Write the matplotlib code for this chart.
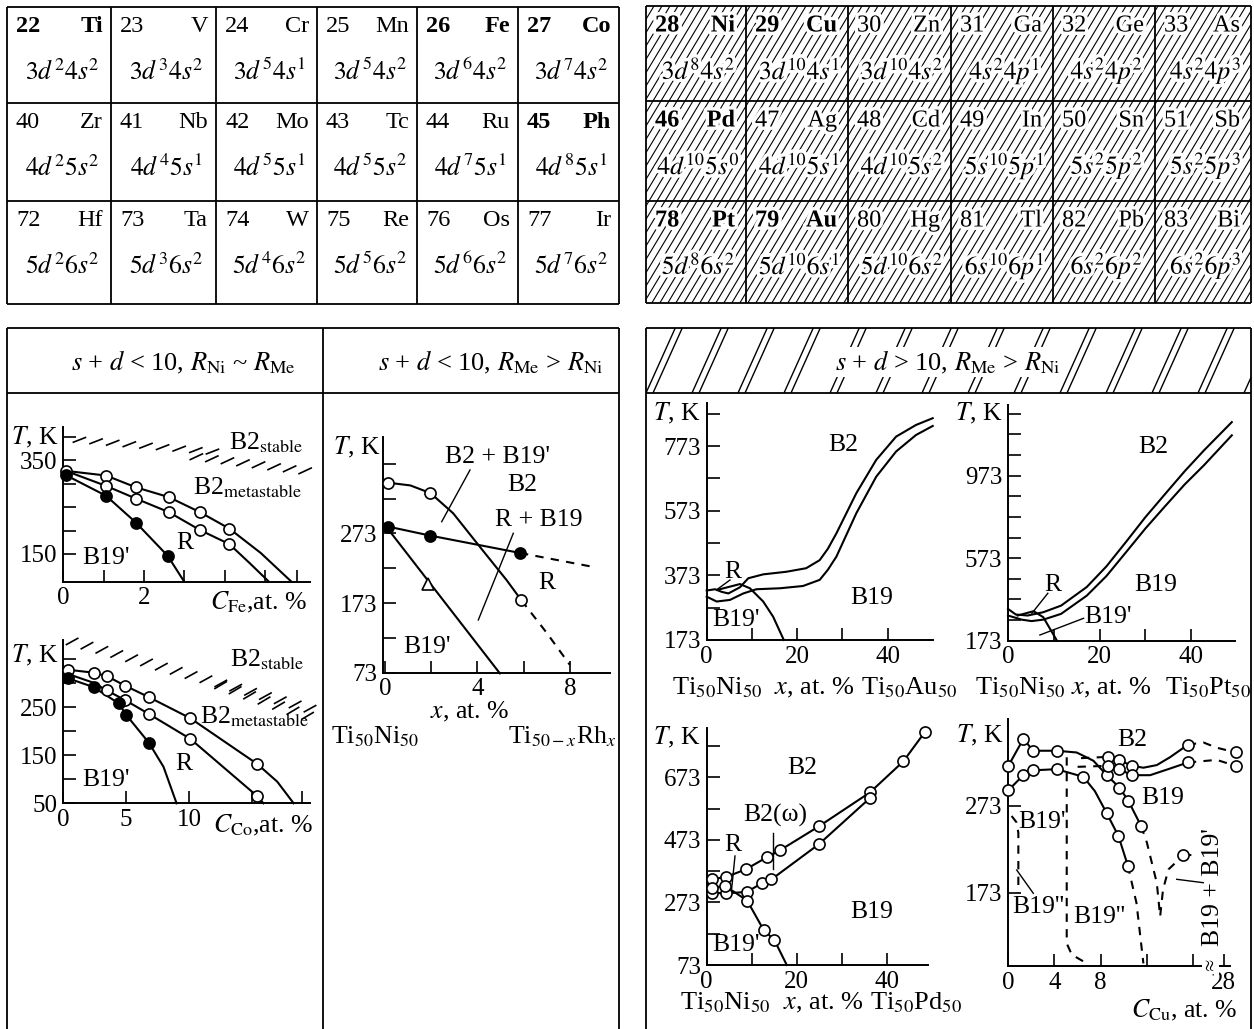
import numpy as np
import matplotlib
matplotlib.use("Agg")
import matplotlib.pyplot as plt
import matplotlib.patheffects as pe
from matplotlib.patches import Rectangle
from matplotlib.collections import LineCollection

plt.rcParams["font.family"] = ["Liberation Serif", "DejaVu Serif"]
plt.rcParams["mathtext.fontset"] = "stix"
plt.rcParams["font.size"] = 17

W, H = 1254, 1029
LABEL_SIZE = 18.5

# ---------------- periodic table blocks ----------------
left_numbers = [[22, 23, 24, 25, 26, 27], [40, 41, 42, 43, 44, 45], [72, 73, 74, 75, 76, 77]]
left_symbols = [["Ti", "V", "Cr", "Mn", "Fe", "Co"],
                ["Zr", "Nb", "Mo", "Tc", "Ru", "Ph"],
                ["Hf", "Ta", "W", "Re", "Os", "Ir"]]
left_configs = [["3d^{2}4s^{2}", "3d^{3}4s^{2}", "3d^{5}4s^{1}", "3d^{5}4s^{2}", "3d^{6}4s^{2}", "3d^{7}4s^{2}"],
                ["4d^{2}5s^{2}", "4d^{4}5s^{1}", "4d^{5}5s^{1}", "4d^{5}5s^{2}", "4d^{7}5s^{1}", "4d^{8}5s^{1}"],
                ["5d^{2}6s^{2}", "5d^{3}6s^{2}", "5d^{4}6s^{2}", "5d^{5}6s^{2}", "5d^{6}6s^{2}", "5d^{7}6s^{2}"]]
left_bold = {"Ti", "Fe", "Co", "Ph"}

right_numbers = [[28, 29, 30, 31, 32, 33], [46, 47, 48, 49, 50, 51], [78, 79, 80, 81, 82, 83]]
right_symbols = [["Ni", "Cu", "Zn", "Ga", "Ge", "As"],
                 ["Pd", "Ag", "Cd", "In", "Sn", "Sb"],
                 ["Pt", "Au", "Hg", "Tl", "Pb", "Bi"]]
right_configs = [["3d^{8}4s^{2}", "3d^{10}4s^{1}", "3d^{10}4s^{2}", "4s^{2}4p^{1}", "4s^{2}4p^{2}", "4s^{2}4p^{3}"],
                 ["4d^{10}5s^{0}", "4d^{10}5s^{1}", "4d^{10}5s^{2}", "5s^{10}5p^{1}", "5s^{2}5p^{2}", "5s^{2}5p^{3}"],
                 ["5d^{8}6s^{2}", "5d^{10}6s^{1}", "5d^{10}6s^{2}", "6s^{10}6p^{1}", "6s^{2}6p^{2}", "6s^{2}6p^{3}"]]
right_bold = {"Ni", "Cu", "Pd", "Pt", "Au"}

# ---------------- TiNi-Fe ----------------
fe_x = [0.06, 1.06, 1.8, 2.62, 3.39, 4.12]
fe_b2 = [327, 317, 292, 271, 239, 204]
fe_b2_tail = ([4.9, 5.66], [152, 91])
fe_r = [327, 295, 268, 239, 201, 171]
fe_r_tail = ([4.63, 5.1], [130, 91])
fe_m_x = [0.06, 1.06, 1.8, 2.59]
fe_m = [318, 274, 217, 146]
fe_m_tail = ([3.0], [91])
fe_stable = ([0.4, 3.7], [393, 368])
fe_stable2 = ([3.3, 6.0], [357, 327])

# ---------------- TiNi-Co ----------------
co_b2_x = [0.4, 2.4, 3.45, 4.9, 6.8, 10.1, 15.4]
co_b2 = [328, 322, 315, 295, 271, 227, 132]
co_b2_tail = ([17.0, 18.3], [95, 50])
co_r_x = [3.45, 4.9, 6.8, 10.1, 15.4]
co_r = [285, 265, 236, 184, 65]
co_r_head = ([0.4, 2.4], [319, 301])
co_r_tail = ([15.9], [50])
co_m_x = [0.4, 2.4, 4.4, 5.0, 6.8]
co_m = [310, 292, 258, 234, 176]
co_m_tail = ([7.96, 9.0], [126, 50])
co_stable = ([0.7, 19.6], [387, 247])
co_stable2 = ([12.5, 19.4], [296, 232])

# ---------------- TiNi-Rh ----------------
rh_open_x = [0.12, 1.97, 5.9]
rh_open = [346, 331, 177]
rh_open_line = ([0.12, 1.1, 1.97, 2.95, 4.1, 5.26, 5.9], [346, 342, 331, 302, 254, 206, 177])
rh_open_dash = ([5.9, 7.0, 8.0], [177, 130, 84])
rh_fill_x = [0.12, 1.95, 5.84]
rh_fill = [283, 270, 245]
rh_fill_dash = ([5.84, 9.0], [245, 225])
rh_b19 = ([0.12, 4.97], [280, 72])
rh_tri = ([1.87], [200])

# ---------------- TiNi-Au ----------------
au_hi_x = [0, 1.84, 3.3, 4.8, 7.35, 9.2, 12.5, 17.6, 22, 25, 26.8, 28.7, 33.1, 37.5, 41.9, 46.3, 50]
au_hi = [326, 330, 322, 317, 336, 364, 376, 384, 395, 420, 455, 503, 627, 730, 802, 838, 859]
au_lo_x = [0, 2.2, 5.15, 8.1, 11, 16.2, 21.3, 25, 26.8, 28.7, 33.1, 37.5, 41.9, 46.3, 50]
au_lo = [307, 292, 297, 317, 330, 333, 340, 359, 390, 431, 565, 678, 756, 807, 835]
au_r_x = [2.35, 7.35, 9.56, 12.5, 14.7, 17.06]
au_r = [328, 346, 333, 292, 245, 173]

# ---------------- TiNi-Pt ----------------
pt_hi_x = [0, 1.7, 4.3, 7.7, 11.6, 17.2, 21.5, 25.8, 30, 34.3, 38.6, 42.9, 48.9]
pt_hi = [327, 300, 295, 311, 343, 433, 533, 652, 771, 883, 994, 1097, 1232]
pt_lo_x = [0, 3, 5.15, 7.7, 11.6, 17.2, 21.5, 25.8, 30, 34.3, 38.6, 42.9, 48.9]
pt_lo = [295, 275, 268, 275, 303, 391, 486, 602, 716, 824, 930, 1025, 1168]
pt_r_x = [2.1, 5.6, 7.7, 10.7]
pt_r = [295, 316, 287, 173]

# ---------------- TiNi-Pd ----------------
pd_hi_x = [1.1, 4.4, 8.7, 13.3, 16.3, 25, 36.3, 43.7, 48.5]
pd_hi = [347, 355, 379, 417, 440, 517, 625, 724, 818]
pd_lo_x = [1.1, 4.4, 9.0, 12.4, 14.4, 25, 36.3]
pd_lo = [304, 302, 307, 336, 347, 460, 607]
pd_r_x = [1.1, 4.1, 9.0, 12.7, 15.0]
pd_r = [320, 326, 279, 184, 154]
pd_r_tail = ([17.8], [73])

# ---------------- TiNi-Cu ----------------
cu_a_x = [0, 1.3, 2.17, 4.19, 8.53, 9.62, 10.4, 11.5]
cu_a = [319, 350, 336.5, 336.5, 308.4, 294.2, 278.8, 250]
cu_a_line = ([0, 1.3, 2.17, 4.19, 5.92, 7.37, 8.53, 9.62, 10.4, 11.5],
             [319, 350, 336.5, 336.5, 334.5, 325, 308.4, 294.2, 278.8, 250])
cu_a_dash = ([11.5, 12.0, 12.86, 13.15, 13.4, 13.87, 15.17], [250, 231, 184.5, 146, 177, 200, 216.5])
cu_mix = ([15.17], [216.5])
cu_mix_dash = ([15.17, 16.3], [216.5, 216.5])
cu_b_x = [0, 1.3, 2.17, 4.19, 6.5, 8.53, 9.54, 10.35]
cu_b = [291, 308.4, 314, 315.3, 306.5, 264.5, 238.4, 204.5]
cu_b_line = ([0, 1.3, 2.17, 4.19, 6.5, 7.5, 8.53, 9.54, 10.35],
             [291, 308.4, 314, 315.3, 306.5, 290, 264.5, 238.4, 204.5])
cu_b_dash = ([10.35, 11.1, 11.7], [204.5, 161.5, 92])
cu_c_x = [8.67, 9.62, 10.7, 15.55, 30]
cu_c = [329.5, 325.7, 319.2, 343.4, 334.5]
cu_c_line = ([8.67, 9.62, 10.7, 11.7, 12.86, 14.0, 15.55], [329.5, 325.7, 319.2, 317, 320, 329, 343.4])
cu_c_dash_l = ([6.3, 8.67], [328, 329.5])
cu_c_dash_r = ([15.55, 16.9, 26.9, 30], [343.4, 346, 340, 334.5])
cu_d_x = [8.67, 9.62, 10.7, 15.55, 30]
cu_d = [319.2, 315.3, 308.4, 323, 319]
cu_d_line = ([8.67, 9.62, 10.7, 12.28, 14.0, 15.55], [319.2, 315.3, 308.4, 308.4, 316, 323])
cu_d_dash_l = ([6.0, 8.67], [318, 319.2])
cu_d_dash_r = ([15.55, 26.9, 30], [323, 326, 319])
cu_v_dash = ([5.06, 5.06, 5.5, 6.8], [329, 115, 102, 92])
cu_left_dash = ([0.29, 0.72, 0.87, 0.87], [261.5, 254, 242, 173])


def cu_pos(x):
    # broken composition axis: everything past the break is squeezed next to 28 at.%
    x = np.asarray(x, dtype=float)
    return np.where(x <= 17, x, 18.64 + (x - 28) * 0.54)


fig = plt.figure(figsize=(W / 100, H / 100), dpi=100)
bg = fig.add_axes([0, 0, 1, 1])
bg.set_xlim(0, W)
bg.set_ylim(H, 0)
bg.axis("off")

white_edge = [pe.withStroke(linewidth=5, foreground="white")]


def hatch(x0, y0, x1, y1, starts, lean, lw=0.8):
    h = y1 - y0
    segs = [[(s, y1), (s + lean * h, y0)] for s in starts]
    lc = LineCollection(segs, colors="k", linewidths=lw)
    bg.add_collection(lc)
    lc.set_clip_path(Rectangle((x0, y0), x1 - x0, y1 - y0, transform=bg.transData))


def line(x, y, lw=1.3):
    bg.plot(x, y, color="k", lw=lw, solid_capstyle="butt")


def draw_table(xe, ye, numbers, symbols, configs, bold, hatched):
    if hatched:
        lean = 0.6
        hatch(xe[0], ye[0], xe[-1], ye[-1],
              np.arange(xe[0] - lean * (ye[-1] - ye[0]), xe[-1] + 8, 8), lean)
    for x in xe:
        line([x, x], [ye[0], ye[-1]])
    for y in ye:
        line([xe[0], xe[-1]], [y, y])
    fx = white_edge if hatched else None
    for i in range(3):
        for j in range(6):
            left, right, top = xe[j], xe[j + 1], ye[i]
            weight = "bold" if symbols[i][j] in bold else "normal"
            bg.text(left + 9, top + 20, str(numbers[i][j]), ha="left", va="center",
                    fontsize=17.5, weight=weight, path_effects=fx)
            bg.text(right - (11 if hatched else 8), top + 20, symbols[i][j], ha="right",
                    va="center", fontsize=17.5, weight=weight, path_effects=fx)
            bg.text((left + right) / 2 + 3, top + 65, "$" + configs[i][j] + "$",
                    ha="center", va="center", fontsize=18.5, path_effects=fx)


draw_table([7, 111, 216, 317, 417, 518, 619], [7, 103, 201, 304],
           left_numbers, left_symbols, left_configs, left_bold, False)
draw_table([646, 746, 848, 951, 1053, 1155, 1251], [6, 101, 201, 303],
           right_numbers, right_symbols, right_configs, right_bold, True)

# lower frames
line([7, 619], [328, 328])
line([7, 7], [328, H])
line([619, 619], [328, H])
line([323, 323], [328, H])
line([7, 619], [393, 393])

pair_starts = np.sort(np.concatenate([np.arange(600, 1260, 46), np.arange(607, 1260, 46)]))
hatch(646, 328, 1251, 393, pair_starts, 0.45, lw=1.0)
line([646, 1251], [328, 328])
line([646, 646], [328, H])
line([1251, 1251], [328, H])
line([646, 1251], [393, 393])

bg.text(183, 362, r"$s$ + $d$ < 10, $R_{\rm Ni}$ ~ $R_{\rm Me}$", ha="center", va="center", fontsize=19)
bg.text(491, 362, r"$s$ + $d$ < 10, $R_{\rm Me}$ > $R_{\rm Ni}$", ha="center", va="center", fontsize=19)
bg.text(948, 362, r"$s$ + $d$ > 10, $R_{\rm Me}$ > $R_{\rm Ni}$", ha="center", va="center", fontsize=19,
        bbox=dict(fc="white", ec="none", pad=1))


def panel(x0, x1, y_top, y_bot, xlim, ylim):
    ax = fig.add_axes([x0 / W, 1 - y_bot / H, (x1 - x0) / W, (y_bot - y_top) / H])
    ax.set_xlim(*xlim)
    ax.set_ylim(*ylim)
    ax.patch.set_alpha(0)
    for s in ("top", "right"):
        ax.spines[s].set_visible(False)
    for s in ("left", "bottom"):
        ax.spines[s].set_linewidth(1.4)
    ax.tick_params(direction="in", length=9, width=1.2, labelsize=18, pad=4)
    return ax


def ticks(ax, xt, xl, yt, yl, xpos=None):
    ax.set_xticks(xt if xpos is None else xpos)
    ax.set_xticklabels([str(v) if v in xl else "" for v in xt])
    ax.set_yticks(yt)
    ax.set_yticklabels([str(v) if v in yl else "" for v in yt])


def curve(ax, x, y, dashed=False):
    ax.plot(x, y, color="k", lw=1.5, ls=(0, (4, 3.5)) if dashed else "-", clip_on=False)


def dots(ax, x, y, filled=False, marker="o"):
    ax.plot(x, y, ls="none", marker=marker, ms=8, mfc="k" if filled else "white",
            mec="k", mew=1.2, zorder=3, clip_on=False)


def stable_edge(ax, ends, n, dx, dy):
    xs = np.linspace(ends[0][0], ends[0][1], n)
    ys = np.linspace(ends[1][0], ends[1][1], n)
    for x, y in zip(xs, ys):
        ax.plot([x - dx / 2, x + dx / 2], [y - dy / 2, y + dy / 2], color="k", lw=1.2, clip_on=False)


def labels(items, size=LABEL_SIZE):
    for txt, x, y, ha, *rest in items:
        bg.text(x, y, txt, ha=ha, va="center", fontsize=size, rotation=rest[0] if rest else 0)


def leaders(segs):
    for (xa, ya), (xb, yb) in segs:
        bg.plot([xa, xb], [ya, yb], color="k", lw=1.0)


# Fe
ax = panel(63.3, 310, 426.7, 581.7, (0, 6.12), (91, 421))
ticks(ax, [0, 1, 2, 3, 4, 5, 5.8], [0, 2], [150, 200, 250, 300, 350, 400], [150, 350])
curve(ax, fe_x + fe_b2_tail[0], fe_b2 + fe_b2_tail[1])
curve(ax, fe_x + fe_r_tail[0], fe_r + fe_r_tail[1])
curve(ax, fe_m_x + fe_m_tail[0], fe_m + fe_m_tail[1])
dots(ax, fe_x, fe_b2)
dots(ax, fe_x[1:], fe_r[1:])
dots(ax, fe_m_x, fe_m, filled=True)
stable_edge(ax, fe_stable, 9, 0.3, 10)
stable_edge(ax, fe_stable2, 8, 0.3, 12)
labels([("$T$, K", 58, 437, "right"), (r"B2$_{\rm stable}$", 229, 443, "left"),
        (r"B2$_{\rm metastable}$", 193, 488, "left"), ("R", 185, 543, "center"),
        ("B19'", 82, 558, "left"), (r"$C_{\rm Fe}$,at. %", 210, 602, "left")])

# Co
ax = panel(63.3, 310, 640, 803.3, (0, 19.6), (50, 390))
ticks(ax, [0, 5, 10, 15, 19], [0, 5, 10], [50, 100, 150, 200, 250, 300, 350], [50, 150, 250])
curve(ax, co_b2_x + co_b2_tail[0], co_b2 + co_b2_tail[1])
curve(ax, co_r_head[0] + co_r_x + co_r_tail[0], co_r_head[1] + co_r + co_r_tail[1])
curve(ax, co_m_x + co_m_tail[0], co_m + co_m_tail[1])
dots(ax, co_b2_x, co_b2)
dots(ax, co_r_x, co_r)
dots(ax, co_m_x, co_m, filled=True)
stable_edge(ax, co_stable, 17, 0.9, 13)
stable_edge(ax, co_stable2, 7, 0.9, 14)
labels([("$T$, K", 58, 655, "right"), (r"B2$_{\rm stable}$", 230, 660, "left"),
        (r"B2$_{\rm metastable}$", 200, 717, "left"), ("R", 184, 764, "center"),
        ("B19'", 82, 780, "left"), (r"$C_{\rm Co}$,at. %", 213, 825, "left")])

# Rh
ax = panel(383.3, 610, 436.7, 672.7, (-0.07, 9.73), (73, 412))
ticks(ax, [0, 2, 4, 6, 8], [0, 4, 8], [73, 123, 173, 223, 273, 323, 373], [73, 173, 273])
curve(ax, *rh_open_line)
curve(ax, *rh_open_dash, dashed=True)
curve(ax, rh_fill_x, rh_fill)
curve(ax, *rh_fill_dash, dashed=True)
curve(ax, *rh_b19)
dots(ax, rh_open_x, rh_open)
dots(ax, rh_fill_x, rh_fill, filled=True)
dots(ax, *rh_tri, marker="^")
labels([("$T$, K", 380, 447, "right"), ("B2 + B19'", 445, 457, "left"), ("B2", 507, 485, "left"),
        ("R + B19", 495, 520, "left"), ("R", 547, 583, "center"), ("B19'", 403, 647, "left"),
        ("$x$, at. %", 470, 712, "center"), (r"Ti$_{50}$Ni$_{50}$", 331, 737, "left"),
        (r"Ti$_{50-x}$Rh$_{x}$", 617, 737, "right")])
leaders([((470, 470), (441.7, 521.7)), ((513.3, 533.3), (478.3, 620))])

# Au
ax = panel(706.7, 932.7, 403, 640, (0, 50), (173, 906))
ticks(ax, [0, 10, 20, 30, 40], [0, 20, 40], list(range(173, 900, 100)), [173, 373, 573, 773])
curve(ax, au_hi_x, au_hi)
curve(ax, au_lo_x, au_lo)
curve(ax, au_r_x, au_r)
labels([("$T$, K", 700, 413, "right"), ("B2", 843, 445, "center"), ("R", 733, 572, "center"),
        ("B19", 872, 598, "center"), ("B19'", 712, 620, "left")])
labels([(r"Ti$_{50}$Ni$_{50}$", 672, 688, "left"), ("$x$, at. %", 855, 688, "right"),
        (r"Ti$_{50}$Au$_{50}$", 861, 688, "left")], size=19)
leaders([((730, 580), (717.3, 589.3))])

# Pt
ax = panel(1008, 1235, 405, 640.7, (0, 49.6), (173, 1315))
ticks(ax, [0, 10, 20, 30, 40], [0, 20, 40], list(range(173, 1300, 100)), [173, 573, 973])
curve(ax, pt_hi_x, pt_hi)
curve(ax, pt_lo_x, pt_lo)
curve(ax, pt_r_x, pt_r)
labels([("$T$, K", 1002, 413, "right"), ("B2", 1153, 447, "center"), ("R", 1053, 585, "center"),
        ("B19", 1156, 585, "center"), ("B19'", 1084, 617, "left")])
labels([(r"Ti$_{50}$Ni$_{50}$", 975, 688, "left"), ("$x$, at. %", 1071, 688, "left"),
        (r"Ti$_{50}$Pt$_{50}$", 1251, 688, "right")], size=19)
leaders([((1047.8, 593.3), (1031.9, 613.3)), ((1083.6, 618.3), (1039.9, 635))])

# Pd
ax = panel(706.7, 928, 728, 965, (0, 49.2), (73, 831))
ticks(ax, [0, 10, 20, 30, 40], [0, 20, 40], list(range(73, 800, 100)), [73, 273, 473, 673])
curve(ax, pd_hi_x, pd_hi)
curve(ax, pd_lo_x, pd_lo)
curve(ax, pd_r_x + pd_r_tail[0], pd_r + pd_r_tail[1])
dots(ax, pd_hi_x, pd_hi)
dots(ax, pd_lo_x, pd_lo)
dots(ax, pd_r_x, pd_r)
labels([("$T$, K", 700, 737, "right"), ("B2", 802, 768, "center"), ("B2(ω)", 743, 815, "left"),
        ("R", 733, 845, "center"), ("B19", 872, 912, "center"), ("B19'", 712, 945, "left")])
labels([(r"Ti$_{50}$Ni$_{50}$", 680, 1003, "left"), ("$x$, at. %", 864, 1003, "right"),
        (r"Ti$_{50}$Pd$_{50}$", 870, 1003, "left")], size=19)
leaders([((772.7, 833.3), (772.7, 869.3)), ((735, 856), (731.7, 888.3))])

# Cu
ax = panel(1008.3, 1230, 719, 966, (0, 19.2), (89, 373))
cu_xt = [0, 4, 8, 12, 16, 28]
ticks(ax, cu_xt, [0, 4, 8, 28], [173, 273], [173, 273], xpos=cu_pos(cu_xt))
curve(ax, cu_pos(cu_a_line[0]), cu_a_line[1])
curve(ax, cu_pos(cu_a_dash[0]), cu_a_dash[1], dashed=True)
curve(ax, cu_pos(cu_mix_dash[0]), cu_mix_dash[1], dashed=True)
curve(ax, cu_pos(cu_b_line[0]), cu_b_line[1])
curve(ax, cu_pos(cu_b_dash[0]), cu_b_dash[1], dashed=True)
curve(ax, cu_pos(cu_c_line[0]), cu_c_line[1])
curve(ax, cu_pos(cu_c_dash_l[0]), cu_c_dash_l[1], dashed=True)
curve(ax, cu_pos(cu_c_dash_r[0]), cu_c_dash_r[1], dashed=True)
curve(ax, cu_pos(cu_d_line[0]), cu_d_line[1])
curve(ax, cu_pos(cu_d_dash_l[0]), cu_d_dash_l[1], dashed=True)
curve(ax, cu_pos(cu_d_dash_r[0]), cu_d_dash_r[1], dashed=True)
curve(ax, cu_pos(cu_v_dash[0]), cu_v_dash[1], dashed=True)
curve(ax, cu_pos(cu_left_dash[0]), cu_left_dash[1], dashed=True)
dots(ax, cu_pos(cu_a_x), cu_a)
dots(ax, cu_pos(cu_b_x), cu_b)
dots(ax, cu_pos(cu_c_x), cu_c)
dots(ax, cu_pos(cu_d_x), cu_d)
dots(ax, cu_pos(cu_mix[0]), cu_mix[1])
ax.text(17.5, 89, r"$\approx$", rotation=90, ha="center", va="center", fontsize=13,
        bbox=dict(fc="white", ec="none", pad=0), clip_on=False)
labels([("$T$, K", 1003, 735, "right"), ("B2", 1132, 740, "center"), ("B19", 1163, 798, "center"),
        ("B19'", 1018, 822, "left"), ("B19''", 1012, 907, "left"), ("B19''", 1073, 917, "left"),
        ("B19 + B19'", 1213, 887, "center", 90), (r"$C_{\rm Cu}$, at. %", 1237, 1010, "right")])
leaders([((1016.7, 870), (1033.3, 893.3)), ((1176.7, 879.3), (1203.3, 882.7))])

fig.savefig("out.png", dpi=100)
